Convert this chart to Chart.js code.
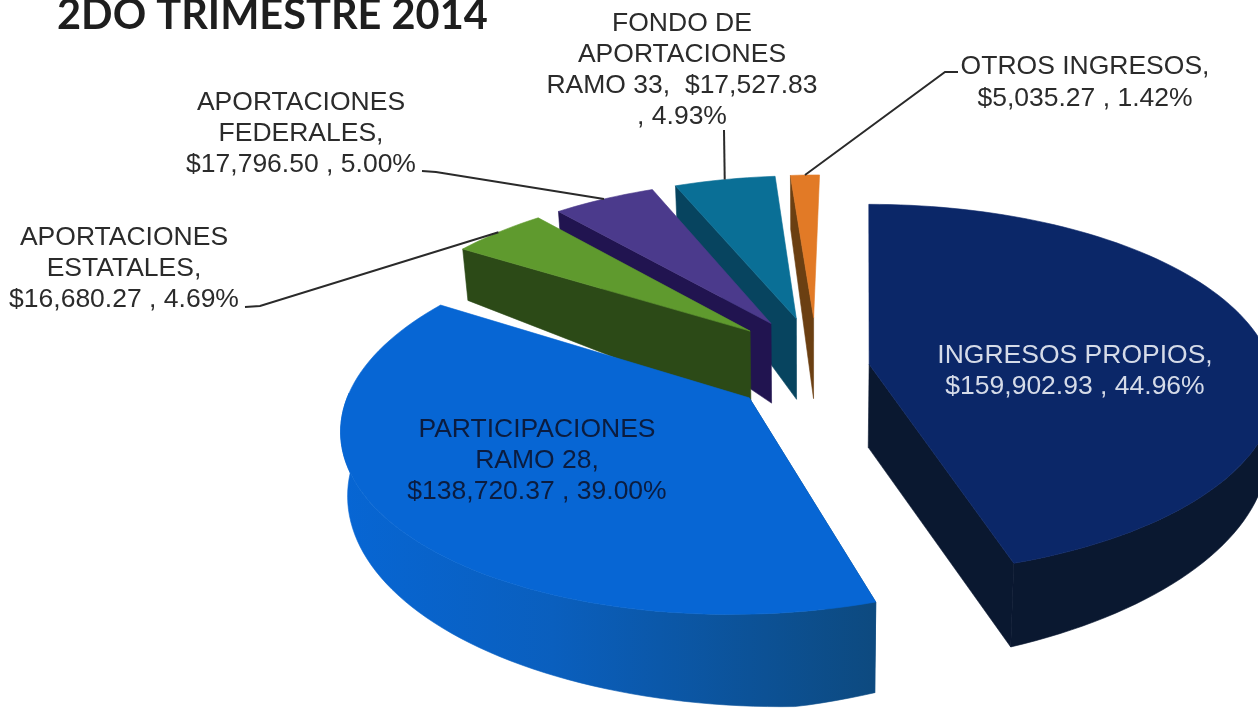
<!DOCTYPE html>
<html>
<head>
<meta charset="utf-8">
<title>2DO TRIMESTRE 2014</title>
<script src="https://cdn.jsdelivr.net/npm/chart.js@4"></script>
<style>
  html, body { margin: 0; padding: 0; background: #fff; overflow: hidden; }
  #box { width: 1258px; height: 709px; }
  #pieChart { filter: blur(0.5px); }
</style>
</head>
<body>
<div id="box"><canvas id="pieChart" width="1258" height="709"></canvas></div>
<script>
// values
const categories = ['INGRESOS PROPIOS', 'PARTICIPACIONES RAMO 28', 'APORTACIONES ESTATALES', 'APORTACIONES FEDERALES', 'FONDO DE APORTACIONES RAMO 33', 'OTROS INGRESOS'];
const amounts = [159902.93, 138720.37, 16680.27, 17796.50, 17527.83, 5035.27];
const chartTitle = '2DO TRIMESTRE 2014';
const labelLines = [
  ['INGRESOS PROPIOS,', '$159,902.93 , 44.96%'],
  ['PARTICIPACIONES', 'RAMO 28,', '$138,720.37 , 39.00%'],
  ['APORTACIONES', 'ESTATALES,', '$16,680.27 , 4.69%'],
  ['APORTACIONES', 'FEDERALES,', '$17,796.50 , 5.00%'],
  ['FONDO DE', 'APORTACIONES', 'RAMO 33,  $17,527.83', ', 4.93%'],
  ['OTROS INGRESOS,', '$5,035.27 , 1.42%']
];

// colors
const topColors = ['#0b2768', '#0766d4', '#5f9a2e', '#4b3a8c', '#0a6f96', '#e27a26'];
const sideColors = ['#0a1830', '#0d4a80', '#2c4a17', '#211450', '#07445f', '#6b3f12'];
const labelColors = ['#d5dbe8', '#0b1c3f', '#2b2b2b', '#2b2b2b', '#2b2b2b', '#2b2b2b'];

// exploded distance and rim radius of each slice, in ground units
const explode = [70, 70, 90, 90, 90, 90];
const rimRadius = [400, 390, 380, 380, 380, 380];
// small correction of a slice on the ground plane
const shift = [[-8, 27], [0, 45], [8, 0], [8, 0], [8, 0], [8, 0]];

// where the label text goes: center x, first baseline, line height
const labelPos = [[1075, 363, 31], [537, 437, 31], [124, 245, 31], [301, 110, 31], [682, 31, 31], [1085, 74, 32]];
// leader line start, it ends on the middle of the slice arc
const leaders = [null, null,
  [[245, 307], [260, 306]],
  [[422, 171], [436, 172]],
  [[724, 130]],
  [[958, 72], [945, 72]]
];

const view = { cx: 808, cy: 357, tilt: 0.45, dist: 2910, shear: 0.02 };

// wall height grows from the back of the pie to the front, and shrinks toward both sides
function wallHeight(w, gx) {
  const base = 70 + 207 * (w - 0.917) - 538 * (w - 0.917) * (w - 0.975);
  return Math.max(0, base * (1 - 0.28 * Math.abs(gx) / 400));
}

function project(gx, gy, z) {
  const w = 1 / (1 - gy / view.dist);
  return {
    x: view.cx + (gx - view.shear * gy) * w * (1 - z * 0.015),
    y: view.cy + view.tilt * gy * w + z * wallHeight(w, gx)
  };
}

function groundPoint(arc, i, r, t) {
  const mid = (arc.startAngle + arc.endAngle) / 2;
  const off = arc.options.offset;
  return {
    x: Math.cos(mid) * off + shift[i][0] + r * Math.cos(t),
    y: Math.sin(mid) * off + shift[i][1] + r * Math.sin(t)
  };
}

function fillPoly(ctx, pts, color) {
  ctx.beginPath();
  pts.forEach((p, n) => n ? ctx.lineTo(p.x, p.y) : ctx.moveTo(p.x, p.y));
  ctx.closePath();
  ctx.fillStyle = color;
  ctx.fill();
  ctx.strokeStyle = color;
  ctx.lineWidth = 0.6;
  ctx.stroke();
}

function arcSteps(arc) {
  const n = Math.max(4, Math.ceil((arc.endAngle - arc.startAngle) / 0.03));
  const out = [];
  for (let j = 0; j <= n; j++) out.push(arc.startAngle + (arc.endAngle - arc.startAngle) * j / n);
  return out;
}

function drawSlice(ctx, arc, i) {
  const o = groundPoint(arc, i, 0, 0);
  const top0 = project(o.x, o.y, 0), bot0 = project(o.x, o.y, 1);
  const steps = arcSteps(arc);
  const rim = steps.map(t => groundPoint(arc, i, rimRadius[i], t));
  const rimTop = rim.map(p => project(p.x, p.y, 0));
  const last = rim.length - 1;

  // only the straight wall that faces the viewer
  const onLeft = Math.cos((arc.startAngle + arc.endAngle) / 2) < 0;
  const edge = onLeft ? 0 : last;
  fillPoly(ctx, [top0, rimTop[edge], project(rim[edge].x, rim[edge].y, 1), bot0], sideColors[i]);

  // curved wall, only the front part of the rim shows
  const front = steps.map((t, j) => Math.sin(t) > -0.05 ? j : -1).filter(j => j >= 0);
  if (front.length > 1) {
    let wall = sideColors[i];
    if (i === 1) {
      wall = ctx.createLinearGradient(340, 0, 872, 0);
      wall.addColorStop(0, topColors[1]);
      wall.addColorStop(0.4, '#0a5fbe');
      wall.addColorStop(1, sideColors[1]);
    }
    const upper = front.map(j => rimTop[j]);
    const lower = front.map(j => project(rim[j].x, rim[j].y, 1)).reverse();
    fillPoly(ctx, upper.concat(lower), wall);
  }

  // top face
  fillPoly(ctx, [top0].concat(rimTop), arc.options.backgroundColor);
}

function sliceDepth(arc, i) {
  return groundPoint(arc, i, 200, (arc.startAngle + arc.endAngle) / 2).y;
}

const pie3d = {
  id: 'pie3d',
  beforeDatasetsDraw(chart) {
    const ctx = chart.ctx;
    const arcs = chart.getDatasetMeta(0).data;
    const order = arcs.map((a, i) => i).sort((a, b) => sliceDepth(arcs[a], a) - sliceDepth(arcs[b], b));
    ctx.save();
    order.forEach(i => drawSlice(ctx, arcs[i], i));
    ctx.restore();
    return false; // the flat pie is replaced by the one above
  },
  afterDraw(chart) {
    const ctx = chart.ctx;
    const arcs = chart.getDatasetMeta(0).data;
    ctx.save();
    // leader lines
    ctx.strokeStyle = '#2a2a2a';
    ctx.lineWidth = 2;
    leaders.forEach((start, i) => {
      if (!start) return;
      const mid = (arcs[i].startAngle + arcs[i].endAngle) / 2;
      const g = groundPoint(arcs[i], i, rimRadius[i], mid);
      const end = project(g.x, g.y, 0);
      ctx.beginPath();
      start.forEach((p, n) => n ? ctx.lineTo(p[0], p[1]) : ctx.moveTo(p[0], p[1]));
      ctx.lineTo(end.x, end.y);
      ctx.stroke();
    });
    // slice labels
    ctx.font = '26.5px "Liberation Sans"';
    ctx.textAlign = 'center';
    labelLines.forEach((lines, i) => {
      ctx.fillStyle = labelColors[i];
      lines.forEach((line, n) => {
        ctx.fillText(line, labelPos[i][0], labelPos[i][1] + n * labelPos[i][2]);
      });
    });
    // title
    ctx.font = 'bold 41.5px Lato';
    ctx.textAlign = 'left';
    ctx.fillStyle = '#1e1e1e';
    ctx.fillText(chartTitle, 57, 29);
    ctx.restore();
  }
};

new Chart(document.getElementById('pieChart'), {
  type: 'pie',
  data: {
    labels: categories,
    datasets: [{
      data: amounts,
      backgroundColor: topColors,
      borderWidth: 0,
      offset: explode
    }]
  },
  options: {
    responsive: false,
    animation: false,
    rotation: 0,
    plugins: {
      legend: { display: false },
      tooltip: { enabled: false }
    }
  },
  plugins: [pie3d]
});
</script>
</body>
</html>
